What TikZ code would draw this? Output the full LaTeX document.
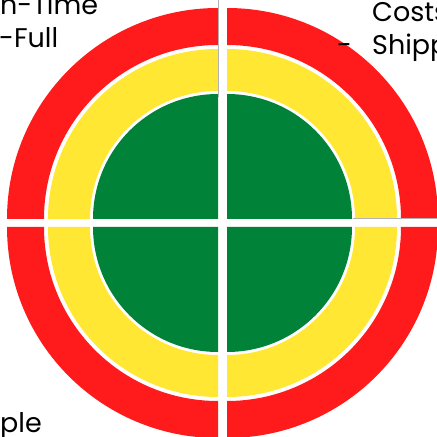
\documentclass[tikz,border=0pt]{standalone}
\usepackage{fontspec}
\setmainfont{Poppins}
\usetikzlibrary{calc}
\definecolor{ringred}{RGB}{255,27,27}
\definecolor{ringyellow}{RGB}{255,231,51}
\definecolor{ringgreen}{RGB}{0,130,56}
\tikzset{
  lbl/.style={font=\fontsize{27}{31}\selectfont, inner sep=0pt, text=black},
  gapline/.style={draw=gray!60, line width=0.6pt}
}
\newcommand{\band}[5]{% center, start angle, inner r, outer r, color
  \fill[#5] ($(#1)+(#2:#4)$) arc[start angle=#2, end angle=#2+90, radius=#4]
     -- ($(#1)+(#2+90:#3)$) arc[start angle=#2+90, end angle=#2, radius=#3] -- cycle;}
\newcommand{\quadpiece}[2]{% center, start angle
  \band{#1}{#2}{174}{211}{ringred}
  \band{#1}{#2}{128}{170}{ringyellow}
  \fill[ringgreen] (#1) -- ($(#1)+(#2:125)$) arc[start angle=#2, end angle=#2+90, radius=125] -- cycle;}
\begin{document}
\begin{tikzpicture}[x=1pt,y=1pt]
\useasboundingbox (0,0) rectangle (437,437);
\clip (0,0) rectangle (437,437);
\fill[white] (0,0) rectangle (437,437);
\coordinate (tl) at (218,218);
\coordinate (tr) at (227,218);
\coordinate (bl) at (218,210);
\coordinate (br) at (227,210);
\quadpiece{tr}{0}
\quadpiece{tl}{90}
\quadpiece{bl}{180}
\quadpiece{br}{270}
\coordinate (vt) at (218.5,437);
\coordinate (vb) at (218.5,340);
\draw[gapline] (vt) -- (vb);
\coordinate (hl) at (353,218.5);
\coordinate (hr) at (437,218.5);
\draw[gapline] (hl) -- (hr);
\node[lbl, anchor=base west] (t1) at (0,422) {n-Time};
\node[lbl, anchor=base west] (t2) at (-1,389) {-Full};
\node[lbl, anchor=base west] (t3) at (372,415) {Costs};
\node[lbl, anchor=base west] (t4) at (372,382) {Shipp};
\node[lbl, anchor=base west] (t5) at (337,382) {-};
\node[lbl, anchor=base west] (t6) at (0,5) {ple};
\end{tikzpicture}
\end{document}
